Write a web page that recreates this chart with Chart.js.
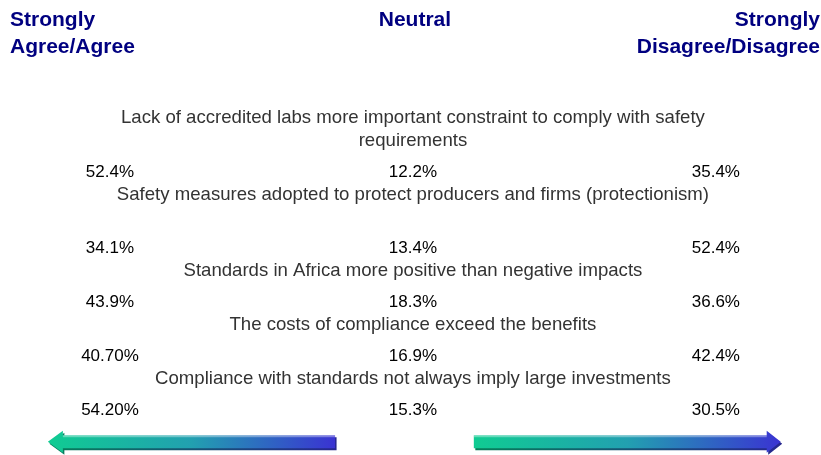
<!DOCTYPE html>
<html>
<head>
<meta charset="utf-8">
<script src="https://cdn.jsdelivr.net/npm/chart.js@4"></script>
<style>
  html, body { margin: 0; padding: 0; background: #ffffff; }
  #wrap { width: 821px; height: 455px; position: relative; }
</style>
</head>
<body>
<div id="wrap"><canvas id="chart"></canvas></div>
<script>
'use strict'

// survey statements (\n = line break in the original text box)
const statements = [
  'Lack of accredited labs more important constraint to comply with safety\nrequirements',
  'Safety measures adopted to protect producers and firms (protectionism)\n',
  'Standards in Africa more positive than negative impacts',
  'The costs of compliance exceed the benefits',
  'Compliance with standards not always imply large investments',
]
const agreeShares = ['52.4%', '34.1%', '43.9%', '40.70%', '54.20%']
const neutralShares = ['12.2%', '13.4%', '18.3%', '16.9%', '15.3%']
const disagreeShares = ['35.4%', '52.4%', '36.6%', '42.4%', '30.5%']
const columnHeaders = [['Strongly', 'Agree/Agree'], ['Neutral'], ['Strongly', 'Disagree/Disagree']]

const FONT = "'Liberation Sans', Arial, sans-serif"

// lay the text rows out in "line" units on the y scale
const statementPts = []
const rowY = []
let y = 0
statements.forEach((s, i) => {
  const lines = s.split('\n')
  lines.forEach((line, j) => {
    if (j > 0) y += 1
    statementPts.push({ x: 1, y, label: line })
  })
  y += 1.4
  rowY.push(y)
  y += 1
})

const colPts = (shares, col) => shares.map((label, i) => ({ x: col, y: rowY[i], label }))

const textMarks = {
  id: 'textMarks',
  afterDatasetsDraw(chart) {
    const ctx = chart.ctx
    chart.data.datasets.forEach((ds, i) => {
      const meta = chart.getDatasetMeta(i)
      ctx.save()
      ctx.font = ds.textFont
      ctx.fillStyle = ds.textColor
      ctx.textAlign = 'center'
      ctx.textBaseline = 'middle'
      meta.data.forEach((pt, j) => {
        const lbl = ds.data[j].label
        if (lbl) ctx.fillText(lbl, pt.x, pt.y)
      })
      ctx.restore()
    })
  },
}

function arrowPath(ctx, xTail, xTip, yc, bodyHalf, headHalf, headLen) {
  const d = xTip > xTail ? 1 : -1
  const xb = xTip - d * headLen
  ctx.beginPath()
  ctx.moveTo(xTail, yc - bodyHalf)
  ctx.lineTo(xb, yc - bodyHalf)
  ctx.lineTo(xb, yc - headHalf)
  ctx.lineTo(xTip, yc)
  ctx.lineTo(xb, yc + headHalf)
  ctx.lineTo(xb, yc + bodyHalf)
  ctx.lineTo(xTail, yc + bodyHalf)
  ctx.closePath()
}

function drawArrow(ctx, xTail, xTip, yc, headLen) {
  const x0 = Math.min(xTail, xTip)
  const x1 = Math.max(xTail, xTip)
  // shadow
  ctx.save()
  ctx.translate(1.5, 2)
  const sh = ctx.createLinearGradient(x0, 0, x1, 0)
  sh.addColorStop(0, '#06805a')
  sh.addColorStop(1, '#26268f')
  ctx.fillStyle = sh
  arrowPath(ctx, xTail, xTip, yc, 6.5, 11, headLen)
  ctx.fill()
  ctx.restore()
  // body
  const g = ctx.createLinearGradient(x0, 0, x1, 0)
  g.addColorStop(0, '#10cc92')
  g.addColorStop(0.5, '#22a0b0')
  g.addColorStop(1, '#3a33d2')
  ctx.fillStyle = g
  arrowPath(ctx, xTail, xTip, yc, 6.5, 11, headLen)
  ctx.fill()
  // highlight on the top edge
  ctx.fillStyle = 'rgba(255,255,255,0.35)'
  const d = xTip > xTail ? 1 : -1
  const xb = xTip - d * headLen
  ctx.fillRect(Math.min(xTail, xb), yc - 6.5, Math.abs(xb - xTail), 2)
}

const decorations = {
  id: 'decorations',
  afterDraw(chart) {
    const ctx = chart.ctx
    const xs = chart.scales.x
    const ys = chart.scales.y
    const area = chart.chartArea
    ctx.save()
    ctx.font = `bold 21px ${FONT}`
    ctx.fillStyle = '#000080'
    ctx.textBaseline = 'middle'
    const headY = [ys.getPixelForValue(-4.35), ys.getPixelForValue(-3.15)]
    columnHeaders[0].forEach((t, i) => {
      ctx.textAlign = 'left'
      ctx.fillText(t, area.left + 10, headY[i])
    })
    columnHeaders[1].forEach((t, i) => {
      ctx.textAlign = 'center'
      ctx.fillText(t, xs.getPixelForValue(1) + 2, headY[i])
    })
    columnHeaders[2].forEach((t, i) => {
      ctx.textAlign = 'right'
      ctx.fillText(t, area.right - 1, headY[i])
    })
    ctx.restore()

    const ay = ys.getPixelForValue(rowY[rowY.length - 1] + 1.38)
    ctx.save()
    drawArrow(ctx, xs.getPixelForValue(0.743), xs.getPixelForValue(-0.205), ay, 15)
    drawArrow(ctx, xs.getPixelForValue(1.201), xs.getPixelForValue(2.214), ay, 14)
    ctx.restore()
  },
}

const textDataset = (data, font, color) => ({
  data,
  textFont: font,
  textColor: color,
  pointRadius: 0,
  pointHoverRadius: 0,
  showLine: false,
})

new Chart(document.getElementById('chart'), {
  type: 'scatter',
  data: {
    datasets: [
      textDataset(statementPts, `18.6px ${FONT}`, '#333333'),
      textDataset(colPts(agreeShares, 0), `17px ${FONT}`, '#000000'),
      textDataset(colPts(neutralShares, 1), `17px ${FONT}`, '#000000'),
      textDataset(colPts(disagreeShares, 2), `17px ${FONT}`, '#000000'),
    ],
  },
  options: {
    responsive: true,
    maintainAspectRatio: false,
    animation: false,
    layout: { padding: 0 },
    events: [],
    plugins: { legend: { display: false }, tooltip: { enabled: false } },
    scales: {
      x: { type: 'linear', display: false, min: -0.363, max: 2.347 },
      y: { type: 'linear', display: false, reverse: true, min: -5.25, max: 14.97 },
    },
  },
  plugins: [textMarks, decorations],
})
</script>
</body>
</html>
